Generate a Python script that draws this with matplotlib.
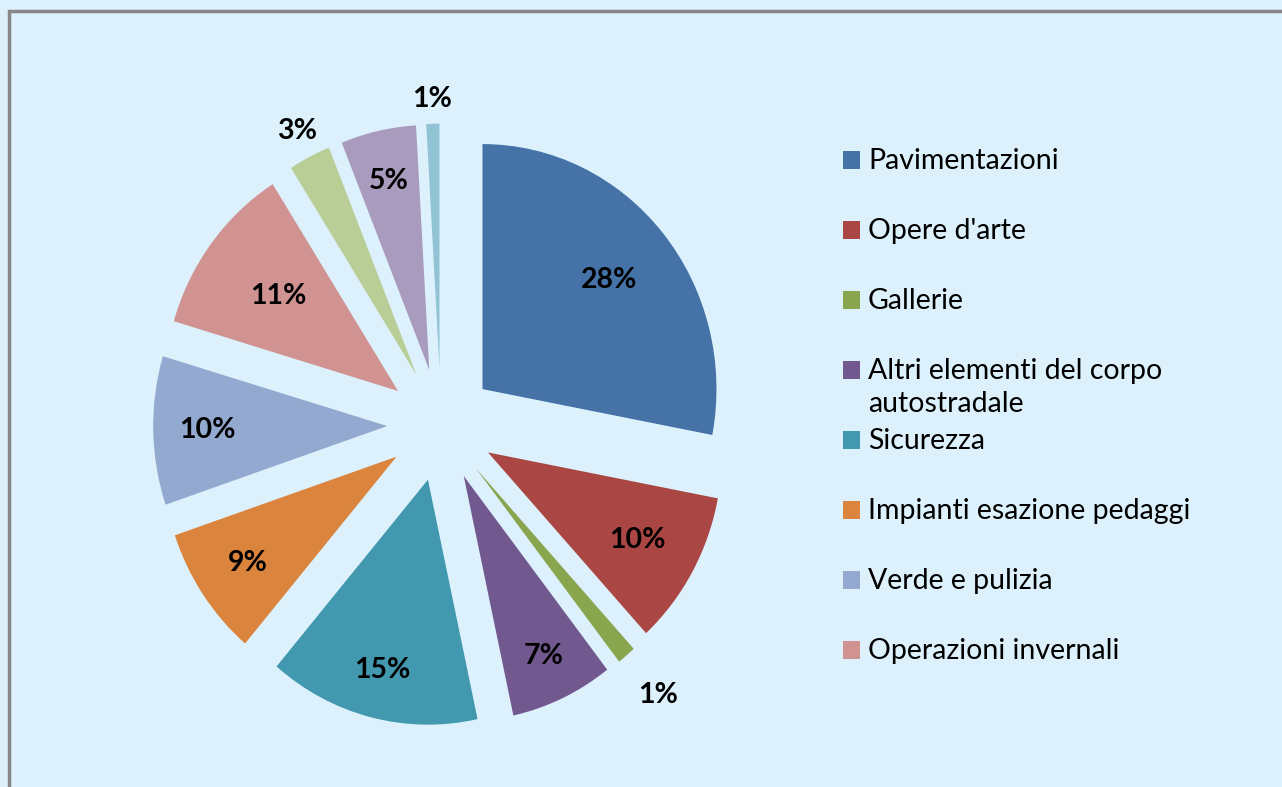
import numpy as np
import matplotlib.pyplot as plt
from matplotlib.patches import Rectangle

# share of maintenance costs (%)
categories = ['Pavimentazioni', "Opere d'arte", 'Gallerie',
              'Altri elementi del corpo\nautostradale', 'Sicurezza',
              'Impianti esazione pedaggi', 'Verde e pulizia',
              'Operazioni invernali']
values = [28.0, 10.2, 1.3, 7.1, 14.6, 8.6, 9.8, 11.4, 2.9, 5.2, 0.9]
colors = ['#4572A7', '#AA4643', '#89A54E', '#71588F', '#4198AF', '#DB843D',
          '#93A9CF', '#D19392', '#B9CD96', '#A99BBD', '#91C3D5']

# where each % label sits (fraction of radius from slice tip)
label_dist = [0.70, 0.73, 1.21, 0.81, 0.80, 0.77, 0.77, 0.64, 1.12, 0.79, 1.10]

bg = '#DCF1FC'
plt.rcParams['font.family'] = ['Lato', 'DejaVu Sans']

W, H = 1282, 787
fig = plt.figure(figsize=(W / 100, H / 100), dpi=100, facecolor=bg)
ax = fig.add_axes([0, 0, 1, 1])
ax.set_facecolor(bg)

# pie centre at pixel (441, 425); the original is a bit squeezed sideways
cx, cy = 441, 425
rx, ry = 234, 245
wedges, texts, autotexts = ax.pie(values, colors=colors, startangle=90, counterclock=False,
                                  explode=[0.23] * len(values), radius=1,
                                  wedgeprops=dict(linewidth=0), autopct='%.0f%%',
                                  textprops=dict(fontsize=20.5, fontweight='bold', color='black'))
for w, t, d in zip(wedges, autotexts, label_dist):
    th = np.deg2rad((w.theta1 + w.theta2) / 2)
    x0, y0 = w.center
    t.set_position((x0 + d * w.r * np.cos(th), y0 + d * w.r * np.sin(th)))
    t.set_ha('center')
    t.set_va('center')

ax.set_xlim(-cx / rx, (W - cx) / rx)
ax.set_ylim(-(H - cy) / ry, cy / ry)
ax.set_aspect('auto')
ax.axis('off')

# chart border (only top and left visible)
fig.add_artist(Rectangle((9 / W, -0.2), 1.2, 1.2 + (H - 11) / H - 1, transform=fig.transFigure,
                         fill=False, edgecolor='#878787', linewidth=2.5))

# legend, drawn by hand to keep the even spacing of the original
for i, name in enumerate(categories):
    yc = 160 + 70 * i
    fig.add_artist(Rectangle((843 / W, 1 - (yc + 9) / H), 17 / W, 18 / H,
                             transform=fig.transFigure, facecolor=colors[i], edgecolor='none'))
    fig.text(868 / W, 1 - (yc - 12) / H, name, fontsize=20.5, va='top', ha='left',
             linespacing=1.35)

plt.savefig('out.png', dpi=100, facecolor=bg)
